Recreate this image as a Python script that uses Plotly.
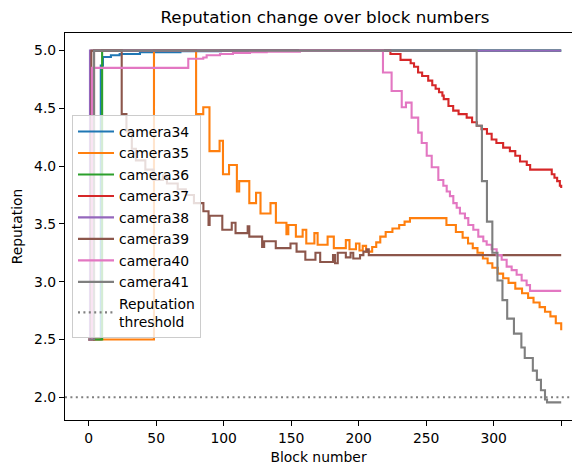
import plotly.graph_objects as go

# ---- data (step breakpoints: value holds from x until next x) ----
cam34_x = [0, 9, 10.6, 16.5, 23, 38, 68, 98, 350]
cam34_y = [2.5, 4.87, 4.945, 4.96, 4.97, 4.985, 4.995, 5.0, 5.0]

cam35_x = [0, 48.4, 79.6, 84.9, 89.5, 97.0, 99.5, 104.0, 109.8, 111.5, 119.0, 124.0, 127.3,
           134.7, 138.7, 146.5, 147.9, 153.5, 158.5, 161.2, 167.2, 169.6, 177.0, 181.6, 190.5,
           193.2, 198.0, 200.6, 203.0, 205.5, 210, 213, 216, 220, 225, 230, 234, 238, 265,
           272, 277, 281, 284.5, 288, 292, 295.5, 299, 303, 307, 311, 316, 321, 325.5, 329.5,
           334, 338, 342, 346, 350]
cam35_y = [2.5, 5.0, 4.45, 4.51, 4.13, 4.22, 3.93, 4.01, 3.78, 3.87, 3.68, 3.77, 3.59,
           3.68, 3.51, 3.41, 3.49, 3.39, 3.45, 3.33, 3.42, 3.32, 3.39, 3.29, 3.36,
           3.28, 3.33, 3.27, 3.31, 3.26, 3.30, 3.34, 3.39, 3.43, 3.46, 3.49, 3.52, 3.55, 3.49,
           3.43, 3.38, 3.33, 3.29, 3.25, 3.20, 3.16, 3.12, 3.07, 3.03, 2.99, 2.94, 2.90, 2.86, 2.82,
           2.78, 2.74, 2.70, 2.64, 2.58]

cam36_x = [0, 10, 350]
cam36_y = [2.5, 5.0, 5.0]

cam37_x = [0, 4, 223.5, 231, 238.5, 241, 244, 247, 251.5, 254.5, 257, 259.5, 262, 263, 266.5,
           270, 274, 280, 284, 287.5, 291, 295, 298.5, 302, 307, 312, 316, 319.5, 324.5, 327,
           343, 345, 347, 349, 350]
cam37_y = [2.5, 5.0, 4.97, 4.92, 4.89, 4.86, 4.81, 4.78, 4.74, 4.70, 4.67, 4.64, 4.61, 4.58, 4.52,
           4.48, 4.45, 4.42, 4.38, 4.35, 4.32, 4.28, 4.23, 4.20, 4.16, 4.13, 4.09, 4.04, 4.01, 3.97,
           3.93, 3.90, 3.87, 3.83, 3.81]

cam38_x = [0, 1, 350]
cam38_y = [2.5, 5.0, 5.0]

cam39_x = [0, 2, 24.5, 28, 32, 35, 42, 48, 55, 58, 66, 72, 78, 85, 88.8, 89.6, 99, 106, 108.8,
           117.8, 119, 128.5, 130, 138.6, 149.5, 154, 160.5, 168, 171.5, 181, 182.5, 184.5,
           190.5, 194, 196, 201, 203.5, 206, 207.5, 350]
cam39_y = [2.5, 5.0, 4.45, 4.30, 4.15, 4.05, 3.97, 3.88, 3.92, 3.85, 3.80, 3.75, 3.68, 3.61, 3.49,
           3.57, 3.45, 3.51, 3.42, 3.48, 3.39, 3.30, 3.35, 3.29, 3.33, 3.26, 3.19, 3.25, 3.17, 3.23,
           3.16, 3.25, 3.21, 3.25, 3.20, 3.23, 3.26, 3.28, 3.23, 3.23]

cam40_x = [0, 2.5, 73.8, 84.9, 87.4, 97.3, 106.9, 119.5, 131.9, 156.5, 218, 224.4, 231.9, 235,
           239.2, 244.1, 246.7, 250.4, 254.1, 259.0, 262.7, 265.2, 267.6, 270.1, 272.6, 275.0,
           278.7, 281.2, 284.9, 288.6, 292.3, 294.8, 298.5, 302.2, 305.9, 309.6, 313.3, 317.0,
           320.7, 324.4, 326.9, 350]
cam40_y = [2.5, 4.85, 4.93, 4.94, 4.96, 4.97, 4.98, 4.985, 4.99, 5.0, 4.81, 4.65, 4.51, 4.55,
           4.42, 4.29, 4.20, 4.09, 3.99, 3.88, 3.83, 3.78, 3.74, 3.68, 3.64, 3.59,
           3.55, 3.49, 3.45, 3.39, 3.35, 3.32, 3.28, 3.23, 3.19, 3.13, 3.10, 3.06,
           3.01, 2.97, 2.92, 2.92]

cam41_x = [0, 4, 287.4, 291.3, 295, 299, 302.8, 306.5, 310, 315, 320.5, 323, 329, 332, 335,
           338, 339.5, 350]
cam41_y = [2.5, 5.0, 4.35, 3.87, 3.52, 3.25, 3.01, 2.84, 2.68, 2.55, 2.43, 2.34, 2.23, 2.15, 2.06,
           1.98, 1.955, 1.955]

series_names = ["camera34", "camera35", "camera36", "camera37",
                "camera38", "camera39", "camera40", "camera41"]
series_x = [cam34_x, cam35_x, cam36_x, cam37_x, cam38_x, cam39_x, cam40_x, cam41_x]
series_y = [cam34_y, cam35_y, cam36_y, cam37_y, cam38_y, cam39_y, cam40_y, cam41_y]
colors = ["#1f77b4", "#ff7f0e", "#2ca02c", "#d62728",
          "#9467bd", "#8c564b", "#e377c2", "#7f7f7f"]

threshold = 2.0
x_range = [-17.5, 358]
y_range = [1.80275, 5.15225]

FONT = "DejaVu Sans"

fig = go.Figure()
for i, (name, xs, ys) in enumerate(zip(series_names, series_x, series_y)):
    fig.add_trace(go.Scatter(x=xs, y=ys, mode="lines", name=name,
                             line=dict(color=colors[i], width=2.1, shape="hv"),
                             legendgroup=name))

fig.add_trace(go.Scatter(x=x_range, y=[threshold, threshold], mode="lines",
                         name="Reputation<br>threshold", legendgroup="thr",
                         line=dict(color="gray", width=2.1, dash="2px,3.4px")))

axis_common = dict(showgrid=False, zeroline=False, showline=True, linecolor="black",
                   linewidth=1.1, ticks="outside", ticklen=5, tickwidth=1.1,
                   tickcolor="black", tickfont=dict(family=FONT, size=13.9, color="black"))

fig.update_layout(
    width=572, height=466,
    margin=dict(l=65, r=0, t=33, b=46, pad=0),
    plot_bgcolor="white", paper_bgcolor="white",
    title=dict(text="Reputation change over block numbers", x=325 / 572, xref="container",
               xanchor="center", y=1 - 17 / 466, yref="container", yanchor="middle",
               font=dict(family=FONT, size=16.7, color="black")),
    xaxis=dict(range=x_range, tick0=0, dtick=50, mirror=True,
               title=dict(text="Block number", font=dict(family=FONT, size=13.9, color="black"),
                          standoff=7),
               **axis_common),
    yaxis=dict(range=y_range, tick0=2.0, dtick=0.5, tickformat=".1f",
               title=dict(text="Reputation", font=dict(family=FONT, size=13.9, color="black"),
                          standoff=8),
               **axis_common),
    legend=dict(x=(72 - 65) / 507, y=(420 - 115) / 387, xanchor="left", yanchor="top",
                bgcolor="rgba(255,255,255,0.8)", bordercolor="#cccccc", borderwidth=1,
                font=dict(family=FONT, size=13.9, color="black"),
                itemwidth=36,
                traceorder="grouped", tracegroupgap=0.4),
    showlegend=True,
)

fig.write_html("out.html")
